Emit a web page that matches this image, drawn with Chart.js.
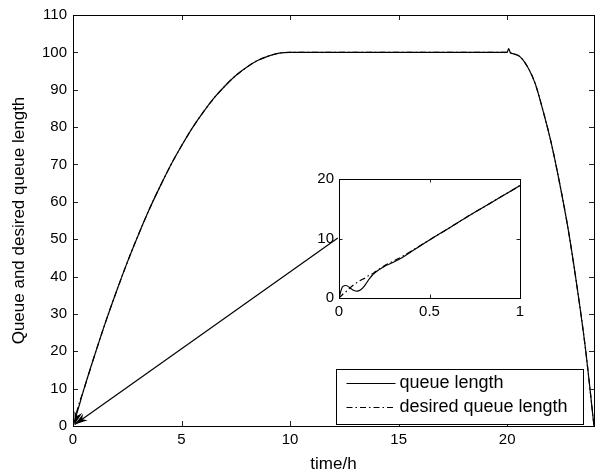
<!DOCTYPE html>
<html>
<head>
<meta charset="utf-8">
<script src="https://cdn.jsdelivr.net/npm/chart.js@4.4.1/dist/chart.umd.min.js"></script>
<style>
  body { margin: 0; background: #fff; }
  #wrap { position: relative; width: 596px; height: 475px; }
  #mainChart { position: absolute; left: 0; top: 0; }
  #insetChart { position: absolute; left: 300px; top: 165px; }
</style>
</head>
<body>
<div id="wrap">
  <canvas id="mainChart" width="596" height="475"></canvas>
  <canvas id="insetChart" width="230" height="160"></canvas>
</div>
<script>
// main chart data
const mainTime    = [0, 0.25, 0.5, 1, 1.5, 2, 2.5, 3, 3.5, 4, 4.5, 5, 5.5, 6, 6.5, 7, 7.5, 8, 8.5, 9, 9.5, 10, 15, 20, 20.07, 20.15, 20.3, 20.6, 21, 21.3, 21.6, 22, 22.4, 22.8, 23.2, 23.6, 24];
const mainQueue   = [0, 4.8, 9.8, 19, 27.8, 36, 43.8, 51, 57.8, 64, 69.8, 75, 79.8, 84, 87.8, 91, 93.8, 96, 97.8, 99, 99.8, 100, 100, 100, 101, 99.9, 99.6, 98.8, 95.5, 91.5, 85.5, 76.5, 65.5, 53, 38, 21, 0];
const mainDesired = [0, 5.4, 9.8, 19, 27.8, 36, 43.8, 51, 57.8, 64, 69.8, 75, 79.8, 84, 87.8, 91, 93.8, 96, 97.8, 99, 99.8, 100, 100, 100, 100, 99.9, 99.6, 98.8, 95.5, 91.5, 85.5, 76.5, 65.5, 53, 38, 21, 0];
const mainXTicks = [0, 5, 10, 15, 20];
const mainYTicks = [0, 10, 20, 30, 40, 50, 60, 70, 80, 90, 100, 110];

// inset data (first hour)
const insetTime    = [0, 0.02, 0.04, 0.06, 0.08, 0.1, 0.12, 0.14, 0.16, 0.18, 0.2, 0.25, 0.3, 0.35, 0.4, 0.5, 0.6, 0.7, 0.8, 0.9, 1];
const insetQueue   = [0, 1.9, 2.1, 1.7, 1.3, 1.15, 1.4, 2.0, 2.9, 3.7, 4.3, 5.3, 6.0, 6.8, 7.8, 9.75, 11.6, 13.5, 15.3, 17.1, 18.9];
const insetDesired = [0, 0.6, 1.1, 1.7, 2.2, 2.6, 3.0, 3.3, 3.7, 4.0, 4.4, 5.4, 6.2, 7.0, 7.9, 9.75, 11.6, 13.5, 15.3, 17.1, 18.9];
const insetXTicks = [0, 0.5, 1];
const insetYTicks = [0, 10, 20];

const seriesNames = ['queue length', 'desired queue length'];
const dashDot = [6, 3, 1.5, 3];

// annotation arrow: from the inset edge to the origin (data coords of main chart)
const arrowFrom = [12.2, 50.3];
const arrowTo = [0.08, 0.4];

Chart.defaults.font.family = 'Arial, "Liberation Sans", Helvetica, sans-serif';
Chart.defaults.color = '#000';

function pts(xs, ys) {
  return xs.map((x, i) => ({ x: x, y: ys[i] }));
}

// box + inward ticks, MATLAB style
function boxPlugin(len) {
  return {
    id: 'box',
    afterDraw(chart) {
      const ctx = chart.ctx;
      const a = chart.chartArea;
      const xs = chart.scales.x, ys = chart.scales.y;
      ctx.save();
      ctx.strokeStyle = '#222';
      ctx.lineWidth = 1;
      ctx.beginPath();
      xs.ticks.forEach(t => {
        const px = Math.round(xs.getPixelForValue(t.value)) + 0.5;
        ctx.moveTo(px, a.bottom); ctx.lineTo(px, a.bottom - len);
        ctx.moveTo(px, a.top); ctx.lineTo(px, a.top + len);
      });
      ys.ticks.forEach(t => {
        const py = Math.round(ys.getPixelForValue(t.value)) + 0.5;
        ctx.moveTo(a.left, py); ctx.lineTo(a.left + len, py);
        ctx.moveTo(a.right, py); ctx.lineTo(a.right - len, py);
      });
      ctx.stroke();
      ctx.strokeStyle = '#000';
      ctx.strokeRect(Math.round(a.left) + 0.5, Math.round(a.top) + 0.5,
        Math.round(a.right - a.left), Math.round(a.bottom - a.top));
      ctx.restore();
    }
  };
}

function head(ctx, tx, ty, ang, L, W) {
  ctx.beginPath();
  ctx.moveTo(tx, ty);
  ctx.lineTo(tx - L * Math.cos(ang) + W * Math.sin(ang), ty - L * Math.sin(ang) - W * Math.cos(ang));
  ctx.lineTo(tx - L * Math.cos(ang) * 0.7, ty - L * Math.sin(ang) * 0.7);
  ctx.lineTo(tx - L * Math.cos(ang) - W * Math.sin(ang), ty - L * Math.sin(ang) + W * Math.cos(ang));
  ctx.closePath();
  ctx.fill();
}

const arrowPlugin = {
  id: 'arrow',
  afterDatasetsDraw(chart) {
    const ctx = chart.ctx;
    const xs = chart.scales.x, ys = chart.scales.y;
    const x0 = xs.getPixelForValue(arrowFrom[0]), y0 = ys.getPixelForValue(arrowFrom[1]);
    const x1 = xs.getPixelForValue(arrowTo[0]), y1 = ys.getPixelForValue(arrowTo[1]);
    ctx.save();
    ctx.strokeStyle = '#000';
    ctx.fillStyle = '#000';
    ctx.lineWidth = 1.2;
    ctx.beginPath();
    ctx.moveTo(x0, y0);
    ctx.lineTo(x1, y1);
    ctx.stroke();
    head(ctx, x1, y1, Math.atan2(y1 - y0, x1 - x0), 13, 4);
    // second head along the steep rise of the curve
    const cx = xs.getPixelForValue(mainTime[3]), cy = ys.getPixelForValue(mainQueue[3]);
    head(ctx, x1, y1, Math.atan2(y1 - cy, x1 - cx), 13, 4);
    ctx.restore();
  }
};

const legendPlugin = {
  id: 'boxLegend',
  afterDraw(chart) {
    const ctx = chart.ctx;
    const a = chart.chartArea;
    const w = 247, h = 55;
    const bx = Math.round(a.right - 11 - w) + 0.5;
    const by = Math.round(a.bottom - 2 - h) + 0.5;
    ctx.save();
    ctx.fillStyle = '#fff';
    ctx.fillRect(bx, by, w, h);
    ctx.strokeStyle = '#000';
    ctx.lineWidth = 1;
    ctx.strokeRect(bx, by, w, h);
    ctx.font = '18px Arial, "Liberation Sans", sans-serif';
    ctx.fillStyle = '#000';
    ctx.textBaseline = 'middle';
    chart.data.datasets.forEach((ds, i) => {
      const ry = by + 14 + i * 24;
      ctx.beginPath();
      ctx.setLineDash(ds.borderDash || []);
      ctx.lineWidth = 1.2;
      ctx.moveTo(bx + 10, ry);
      ctx.lineTo(bx + 59, ry);
      ctx.stroke();
      ctx.setLineDash([]);
      ctx.fillText(ds.label, bx + 63, ry);
    });
    ctx.restore();
  }
};

function lineSets(xs, q, d) {
  return [{
    label: seriesNames[0],
    data: pts(xs, q),
    borderColor: '#000',
    borderWidth: 1.2,
    pointRadius: 0,
    cubicInterpolationMode: 'monotone',
    fill: false
  }, {
    label: seriesNames[1],
    data: pts(xs, d),
    borderColor: '#000',
    borderWidth: 1.2,
    borderDash: dashDot,
    pointRadius: 0,
    cubicInterpolationMode: 'monotone',
    fill: false
  }];
}

// main chart
new Chart(document.getElementById('mainChart'), {
  type: 'line',
  data: { datasets: lineSets(mainTime, mainQueue, mainDesired) },
  options: {
    responsive: false,
    animation: false,
    layout: { padding: { top: 15, right: 2, left: 0, bottom: 0 } },
    plugins: { legend: { display: false }, tooltip: { enabled: false } },
    scales: {
      x: {
        type: 'linear',
        min: 0, max: 24,
        afterFit(s) { s.height = 49; },
        afterBuildTicks(s) { s.ticks = mainXTicks.map(v => ({ value: v })); },
        grid: { display: false, drawTicks: false },
        border: { display: false },
        ticks: { font: { size: 15 }, padding: 5, maxRotation: 0 },
        title: { display: true, text: 'time/h', font: { size: 17 }, padding: { top: 0, bottom: 0 } }
      },
      y: {
        min: 0, max: 110,
        afterFit(s) { s.width = 73; },
        afterBuildTicks(s) { s.ticks = mainYTicks.map(v => ({ value: v })); },
        grid: { display: false, drawTicks: false },
        border: { display: false },
        ticks: { font: { size: 15 }, padding: 6 },
        title: { display: true, text: 'Queue and desired queue length', font: { size: 17 }, padding: { top: 9, bottom: 0 } }
      }
    }
  },
  plugins: [boxPlugin(5), arrowPlugin, legendPlugin]
});

// inset chart
new Chart(document.getElementById('insetChart'), {
  type: 'line',
  data: { datasets: lineSets(insetTime, insetQueue, insetDesired) },
  options: {
    responsive: false,
    animation: false,
    layout: { padding: { top: 10, right: 10, left: 0, bottom: 0 } },
    plugins: { legend: { display: false }, tooltip: { enabled: false } },
    scales: {
      x: {
        type: 'linear',
        min: 0, max: 1,
        afterFit(s) { s.height = 27; },
        afterBuildTicks(s) { s.ticks = insetXTicks.map(v => ({ value: v })); },
        grid: { display: false, drawTicks: false },
        border: { display: false },
        ticks: { font: { size: 15 }, padding: 5, maxRotation: 0, callback: v => String(v) }
      },
      y: {
        min: 0, max: 20,
        afterFit(s) { s.width = 39; },
        afterBuildTicks(s) { s.ticks = insetYTicks.map(v => ({ value: v })); },
        grid: { display: false, drawTicks: false },
        border: { display: false },
        ticks: { font: { size: 15 }, padding: 5 }
      }
    }
  },
  plugins: [{
    id: 'whiteArea',
    beforeDraw(chart) {
      const a = chart.chartArea;
      chart.ctx.save();
      chart.ctx.fillStyle = '#fff';
      chart.ctx.fillRect(a.left, a.top, a.right - a.left, a.bottom - a.top);
      chart.ctx.restore();
    }
  }, boxPlugin(3.5)]
});
</script>
</body>
</html>
